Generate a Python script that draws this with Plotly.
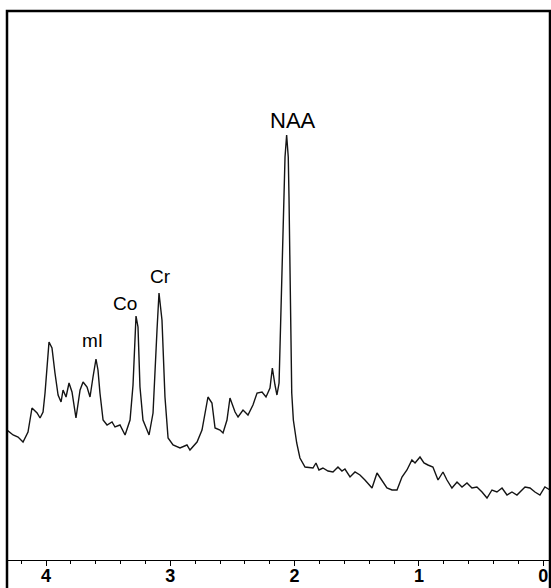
import plotly.graph_objects as go

# chemical shift (ppm) and signal intensity (arbitrary units)
ppm = [
    4.314, 4.265, 4.225, 4.185, 4.145, 4.113, 4.072, 4.048, 4.024, 4.008,
    3.976, 3.952, 3.928, 3.903, 3.879, 3.863, 3.839, 3.815, 3.791, 3.759,
    3.726, 3.702, 3.670, 3.646, 3.622, 3.598, 3.582, 3.566, 3.541, 3.509,
    3.469, 3.445, 3.405, 3.364, 3.324, 3.300, 3.276, 3.260, 3.244, 3.220,
    3.171, 3.139, 3.107, 3.091, 3.067, 3.043, 3.018, 2.978, 2.922, 2.866,
    2.842, 2.785, 2.745, 2.729, 2.697, 2.665, 2.640, 2.600, 2.576, 2.544,
    2.520, 2.479, 2.455, 2.415, 2.375, 2.335, 2.302, 2.262, 2.230, 2.198,
    2.179, 2.158, 2.142, 2.125, 2.104, 2.091, 2.077, 2.064, 2.051, 2.045,
    2.037, 2.031, 2.023, 2.010, 1.983, 1.957, 1.916, 1.852, 1.828, 1.804,
    1.772, 1.731, 1.691, 1.651, 1.619, 1.595, 1.554, 1.514, 1.474, 1.434,
    1.377, 1.337, 1.297, 1.257, 1.216, 1.176, 1.136, 1.096, 1.056, 1.031,
    0.991, 0.959, 0.927, 0.887, 0.846, 0.806, 0.774, 0.734, 0.693, 0.653,
    0.613, 0.573, 0.533, 0.492, 0.452, 0.412, 0.372, 0.331, 0.291, 0.251,
    0.211, 0.171, 0.146, 0.106, 0.066, 0.026, -0.014, -0.055,
]
signal = [
    130, 125, 123, 118, 128, 152, 147, 142, 148, 167,
    218, 212, 187, 165, 158, 170, 163, 177, 168, 142,
    170, 178, 173, 163, 183, 201, 190, 167, 140, 135,
    138, 133, 135, 125, 140, 175, 244, 233, 173, 140,
    125, 147, 230, 267, 240, 163, 122, 115, 112, 115,
    110, 118, 130, 140, 163, 157, 132, 130, 127, 140,
    162, 148, 143, 150, 145, 155, 167, 168, 163, 172,
    192, 175, 165, 177, 280, 360, 403, 425, 403, 363,
    280, 210, 167, 140, 117, 102, 93, 92, 97, 90,
    92, 89, 88, 93, 89, 91, 83, 88, 85, 80,
    72, 87, 80, 72, 70, 70, 83, 90, 100, 97,
    103, 97, 95, 93, 80, 88, 80, 72, 78, 73,
    77, 72, 73, 68, 62, 70, 68, 72, 65, 68,
    65, 70, 73, 72, 68, 65, 73, 70,
]

peak_names = ["NAA", "Cr", "Co", "mI"]
peak_ppm = [2.013, 3.076, 3.362, 3.626]
peak_label_y = [440, 284, 257, 220]
peak_font = [22, 19, 19, 19]

tick_vals = [4, 3, 2, 1, 0]
x_range = [4.314, -0.055]

fig = go.Figure()
fig.add_trace(go.Scatter(
    x=ppm, y=signal, mode="lines",
    line=dict(color="#141414", width=1.4),
    hoverinfo="skip", showlegend=False,
))

for name, px_, py_, fs in zip(peak_names, peak_ppm, peak_label_y, peak_font):
    fig.add_annotation(
        x=px_, y=py_, text=name, showarrow=False,
        font=dict(family="Liberation Sans, Arial", size=fs, color="black"),
    )

# frame around the plot (bottom runs off the picture)
fig.add_shape(type="rect", xref="paper", yref="paper",
              x0=0, x1=1, y0=-0.2, y1=1,
              line=dict(color="black", width=2.5))

fig.update_layout(
    width=551, height=588,
    margin=dict(l=7, r=1, t=11, b=28, autoexpand=False),
    paper_bgcolor="white", plot_bgcolor="white",
    xaxis=dict(
        range=x_range, showgrid=False, zeroline=False, automargin=False,
        showline=True, linecolor="black", linewidth=1.2,
        ticks="outside", ticklen=5, tickwidth=1.2, tickcolor="black",
        tickvals=tick_vals, ticktext=[str(v) for v in tick_vals],
        tickfont=dict(family="Liberation Sans, Arial", size=18,
                      color="black", weight="bold"),
        ticklabelstandoff=-6,
        minor=dict(ticks="outside", dtick=0.2, tick0=0, ticklen=3,
                   tickwidth=1, tickcolor="black", showgrid=False),
    ),
    xaxis2=dict(
        overlaying="x", anchor="y", side="bottom", matches="x",
        range=x_range, showgrid=False, zeroline=False, showline=False,
        automargin=False,
        ticks="inside", ticklen=5, tickwidth=1.2, tickcolor="black",
        tickvals=tick_vals, showticklabels=False,
        minor=dict(ticks="inside", dtick=0.2, tick0=0, ticklen=3,
                   tickwidth=1, tickcolor="black", showgrid=False),
    ),
    yaxis=dict(range=[0, 549], visible=False, showgrid=False,
               zeroline=False, automargin=False),
)

fig.write_html("out.html",
               config={"displayModeBar": False},
               post_script="document.body.style.margin='0';")
